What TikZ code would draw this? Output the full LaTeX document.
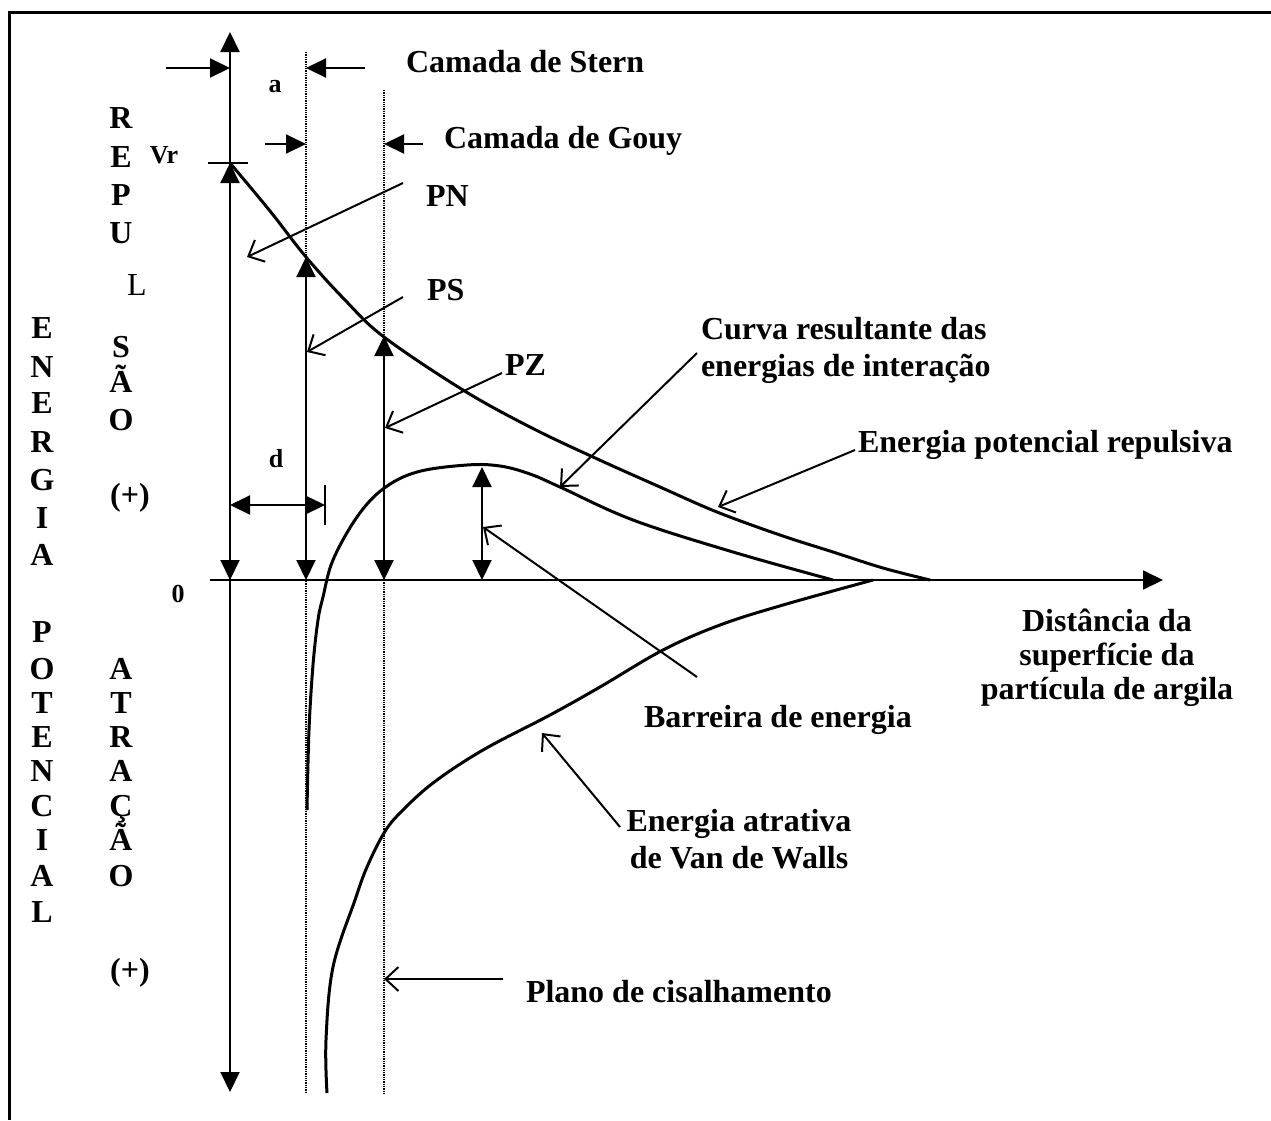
\documentclass[tikz,border=0pt]{standalone}
\usepackage{fontspec}
\setmainfont{Liberation Serif}
\usetikzlibrary{arrows.meta}

\begin{document}
\begin{tikzpicture}[x=1pt, y=-1pt, line width=2pt,
        every node/.style={inner sep=0pt, font=\fontsize{32}{37}\selectfont\bfseries},
        small/.style={font=\fontsize{26}{30}\selectfont\bfseries},
        tri/.style={-{Triangle[length=20pt, width=19pt]}},
        tritri/.style={{Triangle[length=20pt, width=19pt]}-{Triangle[length=20pt, width=19pt]}},
        lead/.style={-{Straight Barb[length=13pt, width=24pt]}},
        plane/.style={densely dotted, line width=1.3pt},
        curve/.style={line width=3pt}]
        \useasboundingbox (0,0) rectangle (1271,1120);
        \draw[line width=3pt] (9,1120) -- (9,12) -- (1271,12);

        % eixos
        \coordinate (O) at (230,580);
        \coordinate (Vr) at (230,163);
        \draw[tri] (O) -- (230,32);
        \draw[tri] (O) -- (230,1092);
        \draw[tritri] (O) -- (Vr);
        \draw (208,163) -- (248,163);
        \draw[tri] (210,580) -- (1163,580);

        % planos
        \draw[plane] (306,52) -- (306,1093);
        \draw[plane] (384,90) -- (384,1093);

        % curvas
        \draw[curve] plot[smooth, tension=0.6] coordinates {(230,163) (270,211) (306,257) (345,300) (384,337) (463,390) (530,427) (593,457) (660,487) (717,512) (780,535) (833,552) (883,568) (930,580)};
        \draw[curve] plot[smooth, tension=0.6] coordinates {(307,810) (309,730) (313,665) (318,620) (323,597) (333,560) (357,517) (383,489) (417,472) (467,465) (500,466) (530,474) (560,487) (633,520) (733,552) (833,580)};
        \draw[curve] plot[smooth, tension=0.6] coordinates {(327,1093) (326,1040) (333,967) (355,900) (367,867) (384,833) (400,813) (433,783) (483,750) (550,715) (600,687) (663,650) (720,625) (783,605) (873,580)};

        % cotas
        \coordinate (pnTop) at (306,257);
        \coordinate (psTop) at (384,336);
        \coordinate (barTop) at (482,467);
        \draw[tritri] (306,580) -- (pnTop);
        \draw[tritri] (384,580) -- (psTop);
        \draw[tritri] (482,580) -- (barTop);
        \draw[tri] (166,68) -- (230,68);
        \draw[tri] (365,68) -- (306,68);
        \draw[tri] (265,144) -- (306,144);
        \draw[tri] (423,144) -- (384,144);
        \draw[tritri] (230,505) -- (325,505);
        \draw (325,485) -- (325,525);

        \node[small, anchor=base] (vrlab) at (164,163) {Vr};
        \node[small, anchor=base] (alab) at (275,92) {a};
        \node[small, anchor=base] (dlab) at (276,467) {d};
        \node[small, anchor=base] (zero) at (178,602) {0};

        % textos verticais
        \foreach \l/\y [count=\i] in {E/338, N/377, E/413, R/452, G/490, I/528, A/565, P/642, O/679, T/713, E/747, N/781, C/816, I/850, A/886, L/922}
            \node[anchor=base] (en\i) at (42,\y) {\l};
        \foreach \l/\y [count=\i] in {R/128, E/167, P/205, U/243, S/357, Ã/392, O/430, A/679, T/713, R/747, A/781, Ç/816, Ã/850, O/886}
            \node[anchor=base] (rep\i) at (121,\y) {\l};
        \node[anchor=base, font=\fontsize{32}{37}\selectfont] (repL) at (137,295) {L};
        \node[anchor=base] (plusA) at (130,505) {(+)};
        \node[anchor=base] (plusB) at (130,980) {(+)};

        % rotulos
        \node[anchor=base west] (stern) at (405,72) {Camada de Stern};
        \node[anchor=base west] (gouy) at (443,148) {Camada de Gouy};
        \node[anchor=base west] (pn) at (425,206) {PN};
        \node[anchor=base west] (ps) at (426,300) {PS};
        \node[anchor=base west] (pz) at (504,375) {PZ};
        \node[anchor=north west, align=left] (curva) at (700,316) {Curva resultante das\\energias de interação};
        \node[anchor=base west] (repuls) at (857,452) {Energia potencial repulsiva};
        \node[anchor=base west] (barreira) at (643,727) {Barreira de energia};
        \node[anchor=north, align=center] (atrativa) at (739,808) {Energia atrativa\\de Van de Walls};
        \node[anchor=base west] (plano) at (525,1002) {Plano de cisalhamento};
        \node[anchor=north, align=center, font=\fontsize{32}{34}\selectfont\bfseries] (dist) at (1107,608) {Distância da\\superfície da\\partícula de argila};

        % setas
        \coordinate (pnTail) at (403,183);
        \coordinate (psTail) at (403,297);
        \coordinate (pzTail) at (502,373);
        \coordinate (curvaTail) at (697,353);
        \coordinate (repTail) at (855,450);
        \coordinate (barTail) at (697,677);
        \coordinate (atrTail) at (620,827);
        \coordinate (planoTail) at (503,979);
        \draw[lead] (pnTail) -- (247,257);
        \draw[lead] (psTail) -- (307,352);
        \draw[lead] (pzTail) -- (385,428);
        \draw[lead] (curvaTail) -- (560,487);
        \draw[lead] (repTail) -- (718,507);
        \draw[lead] (barTail) -- (483,527);
        \draw[lead] (atrTail) -- (542,733);
        \draw[lead] (planoTail) -- (384,979);
    \end{tikzpicture}
\end{document}
